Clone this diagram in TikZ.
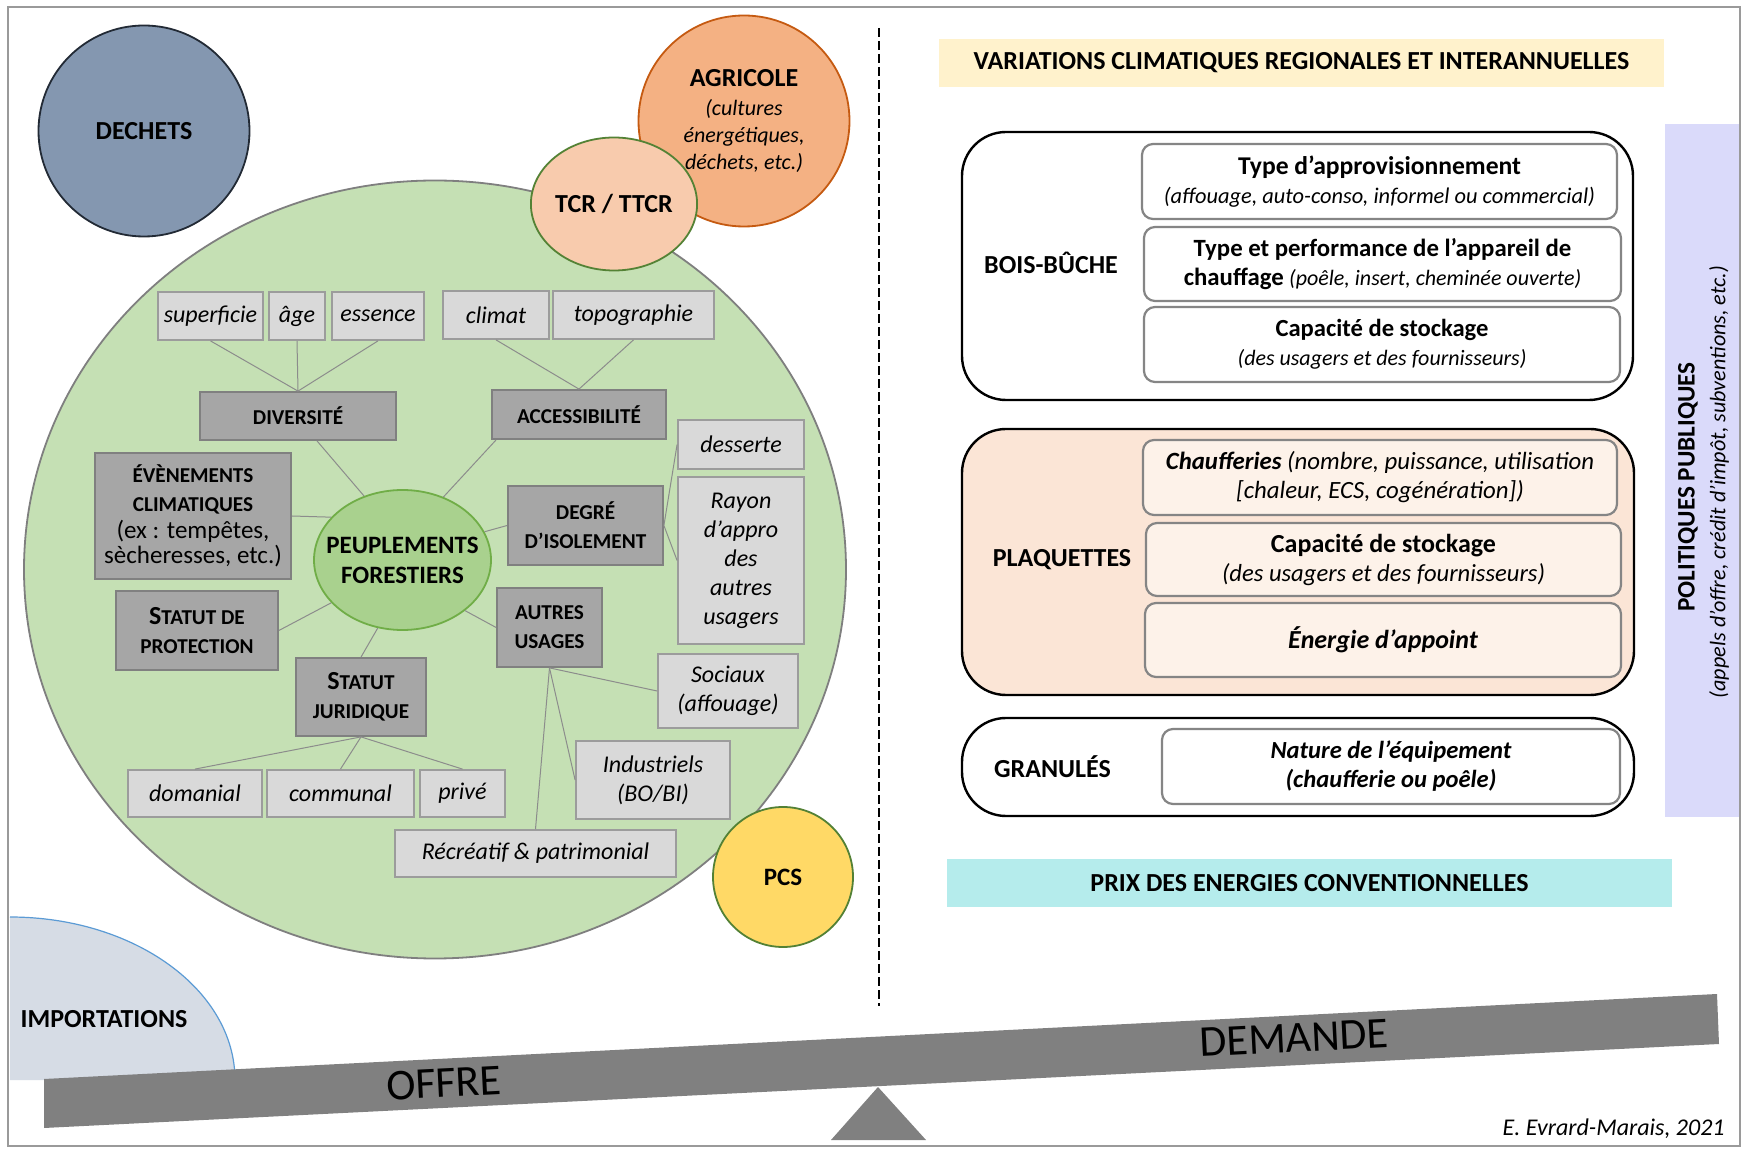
\documentclass[tikz,border=0pt]{standalone}
\usepackage{fontspec}
\setmainfont{Carlito}
\usetikzlibrary{shapes.geometric,calc}
\definecolor{frameclr}{HTML}{9A9A9A}
\definecolor{dkfill}{HTML}{A6A6A6}
\definecolor{dkdraw}{HTML}{808080}
\definecolor{ltfill}{HTML}{D9D9D9}
\definecolor{ltdraw}{HTML}{9C9C9C}
\definecolor{connclr}{HTML}{8C8C8C}
\definecolor{forestfill}{HTML}{C5E0B4}
\definecolor{forestdraw}{HTML}{7F7F7F}
\definecolor{peupfill}{HTML}{A9D18E}
\definecolor{peupdraw}{HTML}{70AD47}
\definecolor{dechfill}{HTML}{8497B0}
\definecolor{dechdraw}{HTML}{222A35}
\definecolor{agrifill}{HTML}{F4B183}
\definecolor{agridraw}{HTML}{C55A11}
\definecolor{tcrfill}{HTML}{F8CBAD}
\definecolor{tcrdraw}{HTML}{548235}
\definecolor{pcsfill}{HTML}{FFD966}
\definecolor{pcsdraw}{HTML}{538135}
\definecolor{impfill}{HTML}{D6DCE5}
\definecolor{impdraw}{HTML}{5B9BD5}
\definecolor{varclr}{HTML}{FFF2CC}
\definecolor{prixclr}{HTML}{B5ECEC}
\definecolor{polclr}{HTML}{DADAFA}
\definecolor{plaqfill}{HTML}{FBE5D6}
\definecolor{plaqin}{HTML}{FDF2E9}
\definecolor{beamclr}{HTML}{808080}
\definecolor{innerdraw}{HTML}{858585}
\newcommand\smallit[1]{{\mdseries\itshape\fontsize{11}{13.4}\selectfont #1}}
\newcommand\evrg[1]{{\mdseries\fontsize{12.5}{13.5}\selectfont #1}}
\newcommand\bigS{{\fontsize{13}{14.5}\selectfont S}}
\begin{document}
\begin{tikzpicture}[x=0.5pt,y=-0.5pt,
  wh/.style 2 args={minimum width=#1*0.5pt, minimum height=#2*0.5pt},
  darkbox/.style={draw=dkdraw, fill=dkfill, line width=0.9pt, inner sep=0pt, align=center,
     font=\bfseries\fontsize{10.6}{14.5}\selectfont},
  lightbox/.style={draw=ltdraw, fill=ltfill, line width=0.9pt, inner sep=0pt, align=center,
     font=\itshape\fontsize{12}{14.5}\selectfont},
  conn/.style={draw=connclr, line width=0.5pt},
  blob/.style={ellipse, inner sep=0pt, align=center, line width=0.9pt},
  title/.style={inner sep=0pt, align=center, font=\bfseries\fontsize{13}{16}\selectfont},
  outerbox/.style={draw=black, line width=1.2pt, rounded corners=22pt, inner sep=0pt},
  innerbox/.style={draw=innerdraw, line width=1.1pt, rounded corners=5.5pt, inner sep=0pt, align=center,
     font=\fontsize{12}{14.5}\selectfont},
  grp/.style={inner sep=0pt, font=\bfseries\fontsize{13}{16}\selectfont}
]
\useasboundingbox (0,0) rectangle (1742,1149);
\fill[white] (0,0) rectangle (1742,1149);

% band on the right
\node[fill=polclr, wh={75}{693}, inner sep=0pt] (pol) at (1702.5,470.5) {};
\node[rotate=90, inner sep=0pt, font=\bfseries\fontsize{12.6}{16}\selectfont] (polt) at (1688,487) {POLITIQUES PUBLIQUES};
\node[rotate=90, inner sep=0pt, font=\itshape\fontsize{11.1}{13}\selectfont] (pols) at (1719,482) {(appels d’offre, crédit d’impôt, subventions, etc.)};

% importations
\fill[impfill] (10,1080) -- (235,1080) arc[start angle=0,end angle=90,x radius=112.5pt,y radius=81.5pt] -- cycle;
\draw[impdraw, line width=0.6pt] (235,1080) arc[start angle=0,end angle=90,x radius=112.5pt,y radius=81.5pt];
\node[grp] (imp) at (104,1019) {IMPORTATIONS};

% dashed separator
\coordinate (septop) at (879,28);
\coordinate (sepbot) at (879,1006);
\draw[black, line width=0.6pt, dash pattern=on 4.5pt off 2pt] (septop) -- (sepbot);

% forest
\node[ellipse, draw=forestdraw, fill=forestfill, line width=0.9pt, inner sep=0pt, wh={822}{778}] (forest) at (435,569.5) {};
\node[blob, fill=dechfill, draw=dechdraw, wh={211}{211}, font=\bfseries\fontsize{13}{16}\selectfont] (dech) at (144,131) {DECHETS};
\node[blob, fill=agrifill, draw=agridraw, wh={211}{211}, font=\bfseries\fontsize{13}{13.4}\selectfont] (agri) at (744,121)
  {AGRICOLE\\[1pt]\smallit{(cultures}\\\smallit{énergétiques,}\\\smallit{déchets, etc.)}};
\node[blob, fill=tcrfill, draw=tcrdraw, wh={133}{133}, font=\bfseries\fontsize{13}{16}\selectfont] (tcr) at (614,204) {TCR / TTCR};
\node[blob, fill=pcsfill, draw=pcsdraw, wh={140}{140}, font=\bfseries\fontsize{12.5}{16}\selectfont] (pcs) at (783,877) {PCS};

% boxes
\node[lightbox, wh={105}{48}] (sup) at (210.5,316) {superficie};
\node[lightbox, wh={56}{48}] (age) at (297,316) {âge};
\node[lightbox, wh={92}{48}] (ess) at (378,316) {essence};
\node[lightbox, wh={106}{48}] (cli) at (496,315) {climat};
\node[lightbox, wh={161}{48}] (topo) at (633.5,315) {topographie};
\node[darkbox, wh={196}{48}] (div) at (298,416) {DIVERSITÉ};
\node[darkbox, wh={174}{49}] (acc) at (579,414.5) {ACCESSIBILITÉ};
\node[lightbox, wh={126}{49}] (des) at (741,444.5) {desserte};
\node[lightbox, wh={126}{167}] (ray) at (741,560.5) {Rayon\\d’appro\\des\\autres\\usagers};
\node[darkbox, wh={196}{126}] (eve) at (193,516) {ÉVÈNEMENTS\\CLIMATIQUES\\[-1pt]\evrg{(ex : tempêtes,}\\[-2pt]\evrg{sècheresses, etc.)}};
\node[darkbox, wh={155}{79}] (deg) at (585.5,525.5) {DEGRÉ\\D’ISOLEMENT};
\node[blob, fill=peupfill, draw=peupdraw, wh={177}{140},
  label={[align=center, inner sep=0pt, font=\bfseries\fontsize{12.5}{15}\selectfont]center:PEUPLEMENTS\\FORESTIERS}] (peup) at (402.5,560) {};
\node[darkbox, wh={162}{79}] (sdp) at (197,630.5) {\bigS TATUT DE\\PROTECTION};
\node[darkbox, wh={105}{79}] (au) at (549.5,627.5) {AUTRES\\USAGES};
\node[darkbox, wh={130}{78}] (sj) at (361,697) {\bigS TATUT\\JURIDIQUE};
\node[lightbox, wh={140}{74}] (soc) at (728,691) {Sociaux\\(affouage)};
\node[lightbox, wh={134}{47}] (dom) at (195,793.5) {domanial};
\node[lightbox, wh={147}{47}] (com) at (340.5,793.5) {communal};
\node[lightbox, wh={85}{47}] (pri) at (462.5,793.5) {privé};
\node[lightbox, wh={154}{78}] (ind) at (653,780) {Industriels\\(BO/BI)};
\node[lightbox, wh={281}{47}] (rec) at (535.5,853.5) {Récréatif \& patrimonial};

% connectors
\draw[conn] (sup.south) -- (div.north);
\draw[conn] (age.south) -- (div.north);
\draw[conn] (ess.south) -- (div.north);
\draw[conn] (cli.south) -- (acc.north);
\draw[conn] (topo.south) -- (acc.north);
\draw[conn] ($(div.south)+(19,0)$) -- (peup.121);
\draw[conn] ($(acc.south west)+(5,0)$) -- (peup.57);
\draw[conn] (eve.east) -- (peup.149);
\draw[conn] (deg.west) -- (peup.19);
\draw[conn] (deg.east) -- (des.west);
\draw[conn] (deg.east) -- (ray.west);
\draw[conn] (sdp.east) -- (peup.211);
\draw[conn] (sj.north) -- (peup.250);
\draw[conn] (au.west) -- (peup.321);
\draw[conn] (sj.south) -- (dom.north);
\draw[conn] (sj.south) -- (com.north);
\draw[conn] (sj.south) -- (pri.north);
\draw[conn] (au.south) -- (soc.west);
\draw[conn] (au.south) -- (ind.west);
\draw[conn] (au.south) -- (rec.north);

% right side
\node[title, fill=varclr, wh={725}{48}] (var) at (1301.5,63) {VARIATIONS CLIMATIQUES REGIONALES ET INTERANNUELLES};
\node[title, fill=prixclr, wh={725}{48}] (prix) at (1309.5,883) {PRIX DES ENERGIES CONVENTIONNELLES};

\node[outerbox, fill=white, wh={671}{268}] (bois) at (1297.5,266) {};
\node[grp] (boisl) at (1051,263) {BOIS-BÛCHE};
\node[innerbox, fill=white, wh={475}{75}] (b1) at (1379.5,181.5)
  {{\bfseries\fontsize{12.8}{14.5}\selectfont Type d’approvisionnement}\\{\itshape\fontsize{11.2}{13}\selectfont (affouage, auto-conso, informel ou commercial)}};
\node[innerbox, fill=white, wh={477}{74}] (b2) at (1382.5,264)
  {{\bfseries\fontsize{12.4}{14.5}\selectfont Type et performance de l’appareil de}\\{\bfseries\fontsize{12.4}{14.5}\selectfont chauffage} {\itshape\fontsize{11}{13}\selectfont(poêle, insert, cheminée ouverte)}};
\node[innerbox, fill=white, wh={476}{75}] (b3) at (1382,344.5)
  {{\bfseries\fontsize{12.3}{13}\selectfont Capacité de stockage}\\{\itshape\fontsize{11}{13}\selectfont (des usagers et des fournisseurs)}};

\node[outerbox, fill=plaqfill, wh={672}{266}] (plaq) at (1298,562) {};
\node[grp] (plaql) at (1062,560) {PLAQUETTES};
\node[innerbox, fill=plaqin, wh={474}{75}, font=\itshape\fontsize{12.4}{14.5}\selectfont] (p1) at (1380,477.5)
  {\textbf{Chaufferies} (nombre, puissance, utilisation\\{}[chaleur, ECS, cogénération])};
\node[innerbox, fill=plaqin, wh={475}{73}] (p2) at (1383.5,559.5)
  {{\bfseries\fontsize{13}{14.5}\selectfont Capacité de stockage}\\{\itshape\fontsize{12.3}{13}\selectfont (des usagers et des fournisseurs)}};
\node[innerbox, fill=plaqin, wh={476}{74}, font=\bfseries\itshape\fontsize{13}{14.5}\selectfont] (p3) at (1383,640) {Énergie d’appoint};

\node[outerbox, fill=white, wh={672}{98}] (gran) at (1298,767) {};
\node[grp] (granl) at (1052.5,767) {GRANULÉS};
\node[innerbox, fill=white, wh={458}{75}, font=\bfseries\itshape\fontsize{12.3}{14.5}\selectfont] (g1) at (1391,766.5)
  {Nature de l’équipement\\(chaufferie ou poêle)};

% balance
\fill[beamclr] (44,1079) -- (1717,994) -- (1719,1044) -- (44,1128) -- cycle;
\fill[beamclr] (878,1087) -- (926,1140) -- (831,1140) -- cycle;
\node[rotate=2.9, inner sep=0pt, font=\fontsize{22}{26}\selectfont] (offre) at (444,1083) {OFFRE};
\node[rotate=2.9, inner sep=0pt, font=\fontsize{22}{26}\selectfont] (dem) at (1294,1038) {DEMANDE};
\node[anchor=east, inner sep=0pt, font=\itshape\fontsize{12}{14}\selectfont] (sig) at (1725,1129) {E. Evrard-Marais, 2021};

% frame
\draw[frameclr, line width=0.8pt] (8,7) rectangle (1740,1146);
\end{tikzpicture}
\end{document}
